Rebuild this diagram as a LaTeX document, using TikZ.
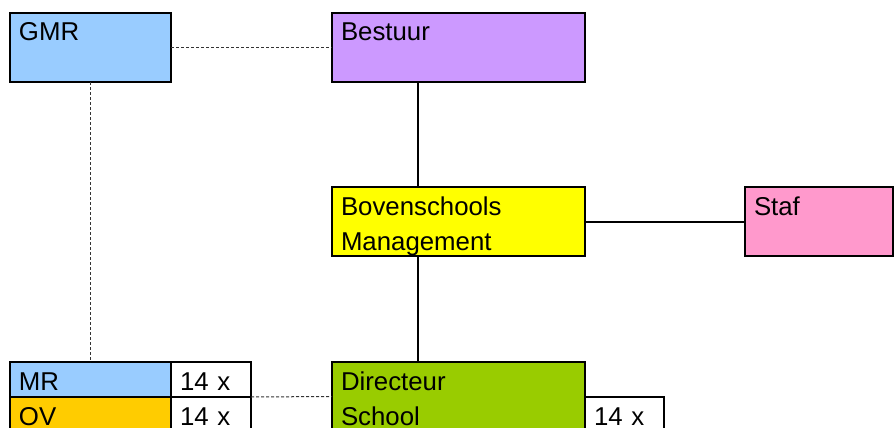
\documentclass[tikz,border=0pt]{standalone}
\usepackage{fontspec}
\setmainfont{Liberation Sans}
\usetikzlibrary{positioning}

\definecolor{gmrblue}{HTML}{99CCFF}
\definecolor{bestuurpurple}{HTML}{CC99FF}
\definecolor{bmyellow}{HTML}{FFFF00}
\definecolor{stafpink}{HTML}{FF99CC}
\definecolor{ovorange}{HTML}{FFCC00}
\definecolor{directeurgreen}{HTML}{99CC00}

\tikzset{
  unit/.style={draw=black, line width=2pt, anchor=north west, outer sep=0pt,
    inner xsep=9pt, inner ysep=0pt, text height=28pt, text depth=41pt,
    align=left, font=\fontsize{25.8pt}{35pt}\selectfont},
  onerow/.style={unit, text depth=7pt},
  link/.style={line width=2pt},
  dashlink/.style={line width=1pt, dash pattern=on 3pt off 2pt, black!80}
}

\begin{document}
\begin{tikzpicture}[x=1pt,y=1pt]
\clip (0,0) rectangle (894,-428);

\node[unit, fill=gmrblue, text width=143pt](gmr) at (10,-13) {GMR};
\node[unit, fill=bestuurpurple, text width=235pt](bestuur) at (332,-13) {Bestuur};
\node[unit, fill=bmyellow, text width=235pt](bovenschools) at (332,-187) {Bovenschools\\Management};
\node[unit, fill=stafpink, text width=130pt](staf) at (745,-187) {Staf};

\node[onerow, fill=gmrblue, text width=143pt](mr) at (10,-362) {MR};
\node[onerow, fill=white, text width=62pt](mrcount) at (171,-362) {14 x};
\node[onerow, fill=ovorange, text width=143pt](ov) at (10,-397) {OV};
\node[onerow, fill=white, text width=62pt](ovcount) at (171,-397) {14 x};
\node[unit, fill=directeurgreen, text width=235pt](directeur) at (332,-362) {Directeur\\School};
\node[onerow, fill=white, text width=61pt](schoolcount) at (585,-397) {14 x};

\coordinate (spine) at (418,0);

\draw[dashlink] (gmr) -- (bestuur);
\draw[dashlink] (gmr) -- (mr);
\draw[dashlink] (mrcount.south east) -- (directeur.west);
\draw[link] (bestuur.south -| spine) -- (bovenschools.north -| spine);
\draw[link] (bovenschools) -- (staf);
\draw[link] (bovenschools.south -| spine) -- (directeur.north -| spine);
\end{tikzpicture}
\end{document}
